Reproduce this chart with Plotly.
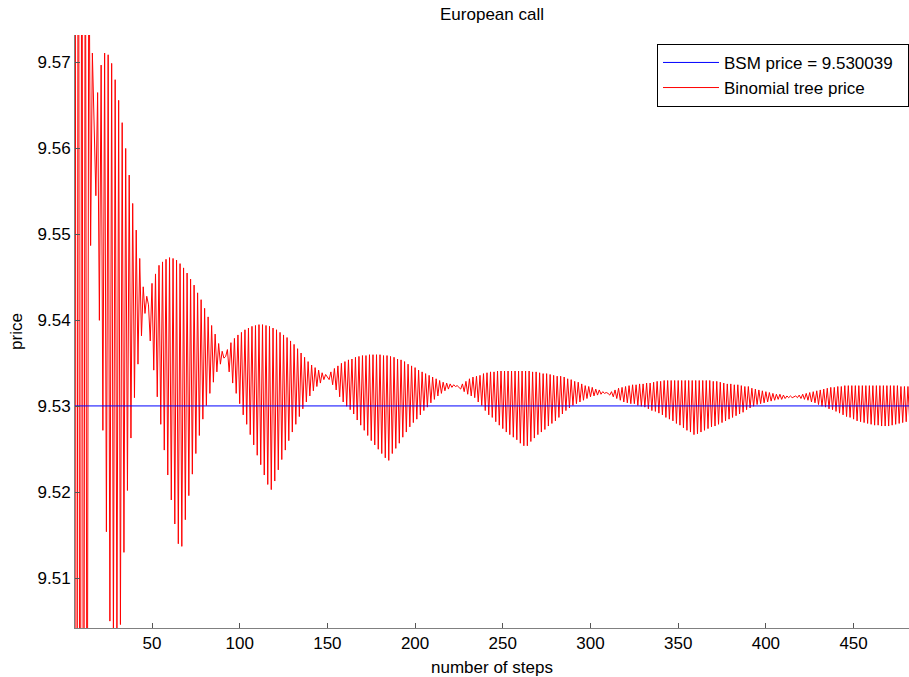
import plotly.graph_objects as go

bsm_price = 9.530039
first_step = 6

# Binomial tree price, one value per number of steps starting at first_step
tree_price = [
    9.6600, 9.4100, 9.6300, 9.4400, 9.6100, 9.4600, 9.6000, 9.4700, 9.5900, 9.5487,  # 6-15
    9.5711, 9.5628, 9.5545, 9.5665, 9.5400, 9.5697, 9.5272, 9.5711, 9.5154, 9.5709,  # 16-25
    9.5050, 9.5699, 9.5020, 9.5680, 9.5025, 9.5656, 9.5046, 9.5630, 9.5130, 9.5600,  # 26-35
    9.5202, 9.5569, 9.5263, 9.5536, 9.5310, 9.5505, 9.5349, 9.5472, 9.5382, 9.5439,  # 36-45
    9.5408, 9.5428, 9.5418, 9.5376, 9.5443, 9.5342, 9.5454, 9.5311, 9.5464, 9.5279,  # 46-55
    9.5468, 9.5249, 9.5471, 9.5220, 9.5473, 9.5191, 9.5472, 9.5163, 9.5470, 9.5140,  # 56-65
    9.5466, 9.5137, 9.5461, 9.5168, 9.5455, 9.5196, 9.5448, 9.5221, 9.5441, 9.5245,  # 66-75
    9.5432, 9.5266, 9.5424, 9.5285, 9.5414, 9.5301, 9.5404, 9.5315, 9.5394, 9.5328,  # 76-85
    9.5384, 9.5340, 9.5373, 9.5349, 9.5364, 9.5356, 9.5358, 9.5366, 9.5340, 9.5374,  # 86-95
    9.5327, 9.5379, 9.5315, 9.5383, 9.5303, 9.5386, 9.5290, 9.5389, 9.5279, 9.5391,  # 96-105
    9.5267, 9.5393, 9.5255, 9.5394, 9.5243, 9.5395, 9.5232, 9.5395, 9.5220, 9.5394,  # 106-115
    9.5209, 9.5393, 9.5203, 9.5391, 9.5213, 9.5389, 9.5226, 9.5386, 9.5238, 9.5383,  # 116-125
    9.5249, 9.5380, 9.5260, 9.5376, 9.5270, 9.5372, 9.5279, 9.5367, 9.5288, 9.5362,  # 126-135
    9.5297, 9.5357, 9.5305, 9.5352, 9.5312, 9.5348, 9.5318, 9.5345, 9.5323, 9.5342,  # 136-145
    9.5327, 9.5339, 9.5331, 9.5337, 9.5334, 9.5331, 9.5340, 9.5325, 9.5344, 9.5319,  # 146-155
    9.5347, 9.5311, 9.5350, 9.5305, 9.5352, 9.5300, 9.5354, 9.5296, 9.5355, 9.5291,  # 156-165
    9.5357, 9.5284, 9.5358, 9.5278, 9.5359, 9.5272, 9.5359, 9.5266, 9.5360, 9.5260,  # 166-175
    9.5360, 9.5255, 9.5360, 9.5250, 9.5360, 9.5245, 9.5359, 9.5240, 9.5359, 9.5237,  # 176-185
    9.5358, 9.5245, 9.5357, 9.5251, 9.5355, 9.5257, 9.5354, 9.5264, 9.5352, 9.5270,  # 186-195
    9.5349, 9.5276, 9.5347, 9.5281, 9.5345, 9.5285, 9.5342, 9.5290, 9.5340, 9.5295,  # 196-205
    9.5338, 9.5299, 9.5336, 9.5304, 9.5334, 9.5308, 9.5332, 9.5312, 9.5330, 9.5315,  # 206-215
    9.5328, 9.5318, 9.5327, 9.5320, 9.5326, 9.5322, 9.5325, 9.5323, 9.5324, 9.5322,  # 216-225
    9.5320, 9.5326, 9.5317, 9.5329, 9.5314, 9.5332, 9.5312, 9.5334, 9.5310, 9.5335,  # 226-235
    9.5305, 9.5336, 9.5301, 9.5338, 9.5295, 9.5339, 9.5290, 9.5340, 9.5287, 9.5340,  # 236-245
    9.5282, 9.5341, 9.5278, 9.5341, 9.5274, 9.5341, 9.5270, 9.5341, 9.5267, 9.5341,  # 246-255
    9.5264, 9.5341, 9.5261, 9.5341, 9.5257, 9.5341, 9.5254, 9.5341, 9.5254, 9.5341,  # 256-265
    9.5259, 9.5340, 9.5263, 9.5340, 9.5267, 9.5339, 9.5270, 9.5338, 9.5273, 9.5338,  # 266-275
    9.5277, 9.5337, 9.5280, 9.5336, 9.5283, 9.5335, 9.5287, 9.5335, 9.5291, 9.5334,  # 276-285
    9.5295, 9.5332, 9.5298, 9.5331, 9.5301, 9.5329, 9.5303, 9.5328, 9.5305, 9.5326,  # 286-295
    9.5307, 9.5324, 9.5309, 9.5323, 9.5311, 9.5322, 9.5312, 9.5320, 9.5313, 9.5319,  # 296-305
    9.5314, 9.5317, 9.5315, 9.5316, 9.5315, 9.5313, 9.5317, 9.5311, 9.5319, 9.5309,  # 306-315
    9.5321, 9.5307, 9.5322, 9.5305, 9.5323, 9.5304, 9.5324, 9.5303, 9.5325, 9.5303,  # 316-325
    9.5325, 9.5301, 9.5326, 9.5300, 9.5326, 9.5299, 9.5327, 9.5297, 9.5327, 9.5295,  # 326-335
    9.5328, 9.5294, 9.5329, 9.5292, 9.5329, 9.5290, 9.5330, 9.5287, 9.5330, 9.5285,  # 336-345
    9.5330, 9.5283, 9.5330, 9.5280, 9.5330, 9.5278, 9.5330, 9.5275, 9.5330, 9.5272,  # 346-355
    9.5330, 9.5270, 9.5330, 9.5267, 9.5330, 9.5268, 9.5330, 9.5270, 9.5330, 9.5272,  # 356-365
    9.5330, 9.5274, 9.5330, 9.5276, 9.5329, 9.5277, 9.5329, 9.5279, 9.5328, 9.5281,  # 366-375
    9.5327, 9.5283, 9.5326, 9.5285, 9.5326, 9.5287, 9.5325, 9.5289, 9.5325, 9.5291,  # 376-385
    9.5324, 9.5293, 9.5323, 9.5296, 9.5323, 9.5298, 9.5321, 9.5300, 9.5320, 9.5302,  # 386-395
    9.5319, 9.5303, 9.5318, 9.5304, 9.5317, 9.5305, 9.5316, 9.5306, 9.5315, 9.5307,  # 396-405
    9.5314, 9.5308, 9.5314, 9.5308, 9.5313, 9.5309, 9.5312, 9.5310, 9.5312, 9.5310,  # 406-415
    9.5311, 9.5312, 9.5310, 9.5313, 9.5309, 9.5314, 9.5308, 9.5315, 9.5307, 9.5316,  # 416-425
    9.5305, 9.5317, 9.5304, 9.5318, 9.5302, 9.5319, 9.5300, 9.5320, 9.5299, 9.5321,  # 426-435
    9.5297, 9.5322, 9.5296, 9.5322, 9.5294, 9.5323, 9.5292, 9.5323, 9.5290, 9.5324,  # 436-445
    9.5288, 9.5324, 9.5287, 9.5324, 9.5285, 9.5324, 9.5283, 9.5324, 9.5282, 9.5324,  # 446-455
    9.5281, 9.5324, 9.5280, 9.5324, 9.5279, 9.5324, 9.5278, 9.5324, 9.5278, 9.5324,  # 456-465
    9.5277, 9.5324, 9.5277, 9.5324, 9.5277, 9.5324, 9.5278, 9.5324, 9.5279, 9.5324,  # 466-475
    9.5280, 9.5323, 9.5281, 9.5323, 9.5282, 9.5323, 9.5283,                          # 476-482
]
steps = list(range(first_step, first_step + len(tree_price)))
bsm_line = [bsm_price] * len(steps)

x_ticks = [50, 100, 150, 200, 250, 300, 350, 400, 450]
y_ticks = [9.51, 9.52, 9.53, 9.54, 9.55, 9.56, 9.57]
y_tick_text = ["9.51", "9.52", "9.53", "9.54", "9.55", "9.56", "9.57"]

FONT = "Liberation Sans, Arial, sans-serif"
PAD = "\u00a0\u00a0"

fig = go.Figure()
fig.add_trace(go.Scatter(x=steps, y=tree_price, mode="lines", name="Binomial tree price" + PAD,
                         line=dict(color="#ff0000", width=1)))
fig.add_trace(go.Scatter(x=steps, y=bsm_line, mode="lines", name="BSM price = 9.530039" + PAD,
                         line=dict(color="#0000ff", width=1)))

fig.update_layout(
    width=909, height=677,
    margin=dict(l=75, r=0, t=35, b=49),
    paper_bgcolor="white", plot_bgcolor="white",
    font=dict(family=FONT, size=17, color="black"),
    title=dict(text="European call", x=0.5, xref="paper", xanchor="center",
               y=1 - 14 / 677, yref="container", yanchor="middle",
               font=dict(family=FONT, size=17, color="black")),
    showlegend=True,
    legend=dict(x=1, xanchor="right", y=0.985, yanchor="top", traceorder="reversed",
                bgcolor="white", bordercolor="black", borderwidth=1,
                font=dict(family=FONT, size=17, color="black"), itemwidth=56,
                tracegroupgap=0),
)
fig.update_xaxes(range=[6.1, 481.6], tickvals=x_ticks, ticks="inside", ticklen=5,
                 tickcolor="#555555", showline=True, linecolor="#808080", linewidth=1,
                 showgrid=False, zeroline=False, mirror=False,
                 title=dict(text="number of steps", standoff=8,
                            font=dict(family=FONT, size=17, color="black")),
                 tickfont=dict(family=FONT, size=17, color="black"))
fig.update_yaxes(range=[9.5042, 9.5732], tickvals=y_ticks, ticktext=y_tick_text,
                 ticks="inside", ticklen=5, tickcolor="#555555",
                 showline=True, linecolor="#808080", linewidth=1,
                 showgrid=False, zeroline=False, mirror=False,
                 title=dict(text="price", standoff=10,
                            font=dict(family=FONT, size=17, color="black")),
                 tickfont=dict(family=FONT, size=17, color="black"))

fig.write_html("out.html")
